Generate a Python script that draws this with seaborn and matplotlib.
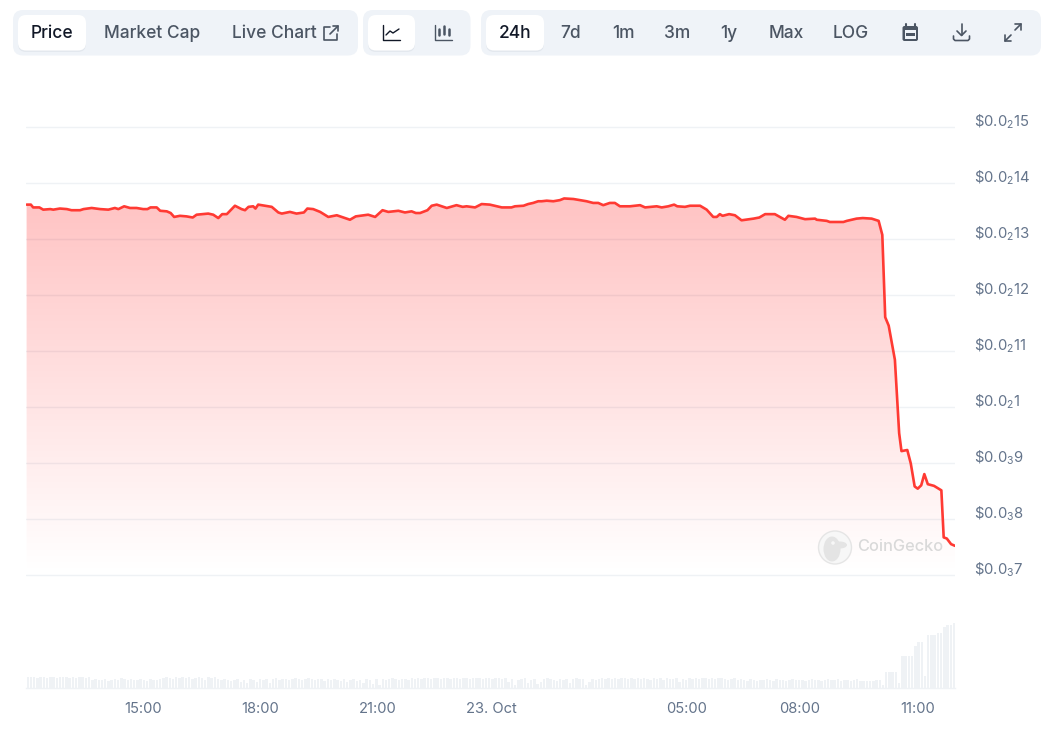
import numpy as np
import pandas as pd
import matplotlib
matplotlib.use("Agg")
import matplotlib.pyplot as plt
import seaborn as sns
from matplotlib.patches import FancyBboxPatch, Polygon, Circle, Ellipse, Rectangle
from matplotlib.transforms import ScaledTranslation

W, H = 1062, 729

# hours since 22 Oct 00:00, price in units of $0.0001
early_hours = [12.01, 12.12, 12.18, 12.34, 12.44, 12.62, 12.70, 12.87, 13.05, 13.17, 13.39, 13.48, 13.69, 13.91,
               14.12, 14.29, 14.38, 14.53, 14.68, 14.85, 15.02, 15.13, 15.21, 15.37, 15.46, 15.63, 15.73, 15.82,
               15.97, 16.14, 16.30, 16.40, 16.70, 16.83, 16.96, 17.06, 17.18, 17.39, 17.56, 17.65, 17.74, 17.86,
               17.92, 17.99, 18.17, 18.34, 18.51, 18.60, 18.81, 18.98, 19.17, 19.26, 19.41, 19.59]
early_price = [13.62, 13.62, 13.57, 13.57, 13.53, 13.54, 13.53, 13.55, 13.54, 13.52, 13.52, 13.54, 13.56, 13.54,
               13.53, 13.56, 13.54, 13.59, 13.56, 13.56, 13.54, 13.54, 13.57, 13.57, 13.51, 13.50, 13.47, 13.40,
               13.42, 13.41, 13.39, 13.44, 13.46, 13.44, 13.38, 13.45, 13.45, 13.60, 13.54, 13.52, 13.58, 13.59,
               13.55, 13.62, 13.60, 13.58, 13.48, 13.46, 13.49, 13.46, 13.48, 13.55, 13.54, 13.49]
mid_hours = [19.80, 20.02, 20.36, 20.51, 20.83, 21.01, 21.20, 21.35, 21.61, 21.78, 21.95, 22.06, 22.17, 22.36,
             22.47, 22.60, 22.86, 23.11, 23.27, 23.37, 23.59, 23.76, 23.97, 24.28, 24.53, 24.62, 24.84, 24.96,
             25.09, 25.22, 25.31, 25.44, 25.61, 25.78, 25.89, 26.13, 26.47, 26.64, 26.77, 26.90, 27.07, 27.20,
             27.33, 27.59, 27.85]
mid_price = [13.40, 13.43, 13.35, 13.41, 13.44, 13.40, 13.52, 13.49, 13.51, 13.48, 13.50, 13.47, 13.47, 13.52,
             13.60, 13.62, 13.56, 13.61, 13.58, 13.59, 13.57, 13.63, 13.62, 13.57, 13.57, 13.59, 13.60, 13.63,
             13.65, 13.68, 13.68, 13.69, 13.68, 13.70, 13.73, 13.72, 13.68, 13.65, 13.65, 13.61, 13.65, 13.65,
             13.59, 13.59, 13.61]
late_hours = [27.98, 28.28, 28.41, 28.58, 28.73, 28.81, 29.01, 29.14, 29.40, 29.57, 29.74, 29.83, 29.91, 29.98,
              30.15, 30.30, 30.47, 30.78, 30.93, 31.08, 31.33, 31.59, 31.68, 31.89, 32.11, 32.37, 32.41, 32.67,
              32.75, 33.10, 33.19, 33.44, 33.60, 33.83, 34.01]
late_price = [13.57, 13.59, 13.57, 13.59, 13.62, 13.59, 13.58, 13.60, 13.60, 13.53, 13.40, 13.40, 13.45, 13.42,
              13.45, 13.43, 13.34, 13.37, 13.39, 13.45, 13.45, 13.35, 13.42, 13.40, 13.36, 13.37, 13.35, 13.33,
              13.31, 13.31, 13.33, 13.37, 13.38, 13.37, 13.33]
drop_hours = [34.105, 34.18, 34.27, 34.43, 34.49, 34.54, 34.60, 34.75, 34.84, 34.94, 35.02, 35.11, 35.19, 35.28,
              35.44, 35.63, 35.69, 35.77, 35.88, 35.98]
drop_price = [13.08, 11.61, 11.46, 10.85, 10.13, 9.54, 9.22, 9.24, 9.00, 8.59, 8.55, 8.61, 8.81, 8.63,
              8.60, 8.52, 7.68, 7.66, 7.56, 7.53]

# 5 minute volume bars, arbitrary units
volume = [11, 11, 11, 10, 11, 11, 10, 11, 11, 10, 11, 11, 11, 10, 11, 10, 11, 11, 10, 11,
          8, 9, 8, 8, 9, 7, 8, 9, 8, 10, 9, 8, 9, 8, 8, 9, 8, 7, 9, 8,
          8, 9, 10, 11, 10, 9, 11, 10, 11, 10, 11, 9, 10, 11, 10, 8, 11, 10, 11, 9,
          8, 9, 8, 7, 8, 9, 6, 8, 5, 9, 8, 6, 9, 8, 9, 5, 9, 10, 8, 9,
          9, 8, 9, 10, 9, 8, 9, 10, 9, 8, 9, 9, 7, 9, 8, 9, 8, 7, 9, 6,
          8, 9, 7, 8, 5, 9, 8, 4, 9, 3, 9, 8, 9, 10, 9, 8, 9, 9, 8, 10,
          9, 10, 9, 10, 10, 9, 10, 10, 9, 10, 10, 9, 10, 10, 9, 10, 10, 9, 10, 10,
          10, 9, 10, 10, 9, 10, 10, 9, 10, 6, 9, 3, 8, 9, 10, 5, 8, 9, 4, 6,
          9, 10, 9, 8, 7, 9, 8, 9, 5, 9, 10, 9, 9, 3, 6, 9, 8, 9, 10, 9,
          10, 9, 10, 9, 10, 10, 9, 10, 9, 10, 9, 10, 9, 8, 10, 9, 10, 8, 10, 9,
          9, 10, 6, 9, 8, 10, 9, 10, 9, 10, 10, 9, 10, 9, 10, 10, 9, 8, 9, 10,
          8, 9, 8, 7, 9, 8, 7, 8, 8, 9, 8, 7, 9, 8, 8, 7, 8, 9, 8, 8,
          8, 7, 8, 9, 8, 8, 7, 8, 9, 8, 8, 9, 7, 8, 8, 7, 8, 9,
          7, 7, 7, 7, 7, 8, 8, 3.5, 16, 16, 16, 16, 5, 32, 32, 32, 32, 42, 46, 46, 12,
          53, 53, 53, 55, 55, 61, 63, 63, 65]

price_ticks = [7, 8, 9, 10, 11, 12, 13, 14, 15]
price_labels = [r'\$0.0$_{3}$7', r'\$0.0$_{3}$8', r'\$0.0$_{3}$9', r'\$0.0$_{2}$1', r'\$0.0$_{2}$11',
                r'\$0.0$_{2}$12', r'\$0.0$_{2}$13', r'\$0.0$_{2}$14', r'\$0.0$_{2}$15']
time_ticks = [15.02, 18.04, 21.07, 24.00, 29.04, 31.97, 35.01]
time_labels = ['15:00', '18:00', '21:00', '23. Oct', '05:00', '08:00', '11:00']

RED = '#ff3a33'
GRID = '#eff2f5'
SLATE = '#64748b'
PANEL = '#eff3f8'
DARK = '#111827'
MUTED = '#4b5563'


def px_axes(fig, left, top, right, bottom, **kw):
    return fig.add_axes([left / W, 1 - bottom / H, (right - left) / W, (bottom - top) / H], **kw)


def draw_price(ax, hours, price):
    ax.set_xlim(11.995, 35.982)
    ax.set_ylim(6.9, 15.1)
    ax.set_yticks(price_ticks, price_labels)
    ax.yaxis.tick_right()
    ax.tick_params(axis='y', length=0, pad=13.8, labelsize=10.7, labelcolor=SLATE)
    ax.set_xticks([])
    ax.grid(axis='y', color=GRID, lw=1)
    ax.set_axisbelow(True)
    sns.despine(ax=ax, left=True, bottom=True, right=True, top=True)
    ax.patch.set_alpha(0)

    alpha = np.linspace(0.24, 0, 256)[:, None]
    rgba = np.zeros((256, 1, 4))
    rgba[..., 0] = 1.0
    rgba[..., 3] = alpha
    im = ax.imshow(rgba, extent=[11.995, 35.982, 7.0, 13.75], origin='upper', aspect='auto', zorder=1.5,
                   interpolation='bilinear')
    outline = list(zip(hours, price)) + [(hours[-1], 7.0), (hours[0], 7.0)]
    im.set_clip_path(Polygon(outline, closed=True, transform=ax.transData))

    sns.lineplot(x=hours, y=price, ax=ax, color=RED, lw=1.9, estimator=None, sort=False, zorder=3)
    ax.set_xlim(11.995, 35.982)
    ax.set_ylim(6.9, 15.1)
    ax.set_xlabel('')
    ax.set_ylabel('')

    shift = ScaledTranslation(0, 7.5 / 100, ax.figure.dpi_scale_trans)
    for tick_label in ax.get_yticklabels():
        tick_label.set_transform(tick_label.get_transform() + shift)


def draw_volume(ax):
    bar_hours = [12.04 + i / 12 for i in range(len(volume))]
    df = pd.DataFrame({'hour': bar_hours, 'volume': volume})
    sns.barplot(data=df, x='hour', y='volume', ax=ax, native_scale=True, color='#eff2f5', saturation=1,
                width=0.76, linewidth=0, errorbar=None)
    ax.set_xlim(11.995, 35.982)
    ax.set_ylim(0, 68)
    ax.set_xticks(time_ticks, time_labels)
    ax.set_yticks([])
    ax.set_xlabel('')
    ax.set_ylabel('')
    ax.tick_params(axis='x', length=7.5, width=1, color=GRID, pad=2.5, labelsize=10.6, labelcolor=SLATE)
    sns.despine(ax=ax, left=True, top=True, right=True)
    ax.spines['bottom'].set_color(GRID)
    ax.spines['bottom'].set_linewidth(1)
    ax.patch.set_alpha(0)


def box(ax, x0, y0, x1, y1, color, r=8, **kw):
    ax.add_patch(FancyBboxPatch((x0 + r, y0 + r), x1 - x0 - 2 * r, y1 - y0 - 2 * r,
                                boxstyle='round,pad=%d,rounding_size=%d' % (r, r),
                                fc=color, ec='none', **kw))


def button(ax, x0, y0, x1, y1):
    box(ax, x0, y0 + 1.5, x1, y1 + 1.5, '#d5dbe3', alpha=0.45)
    box(ax, x0, y0, x1, y1, 'white')


def label(ax, x, text, color=MUTED, ha='center'):
    ax.text(x, 33.7, text, ha=ha, va='center', fontsize=12.5, color=color, fontweight='medium')


def icon(ax, xs, ys, color=MUTED, lw=1.0):
    ax.plot(xs, ys, color=color, lw=lw, solid_capstyle='round', solid_joinstyle='round')


def draw_toolbar(ax):
    box(ax, 13, 10, 358, 55.5, PANEL, r=10)
    box(ax, 363, 10, 470.5, 55.5, PANEL, r=10)
    box(ax, 481, 10, 1041, 55.5, PANEL, r=10)
    button(ax, 18, 15, 86, 50.5)
    button(ax, 368, 15, 415, 50.5)
    button(ax, 486, 15, 544, 50.5)

    label(ax, 52, 'Price', DARK)
    label(ax, 152.5, 'Market Cap')
    label(ax, 274, 'Live Chart')
    label(ax, 515, '24h', DARK)
    for x, text in [(571, '7d'), (623, '1m'), (677, '3m'), (729, '1y'), (786, 'Max'), (851, 'LOG')]:
        label(ax, x, text)

    # external link
    icon(ax, [330, 324, 324, 337, 337], [27, 27, 40, 40, 34], lw=1.2)
    icon(ax, [330, 338], [34, 26], lw=1.2)
    icon(ax, [333, 338, 338], [26, 26, 31], lw=1.2)
    # line chart
    icon(ax, [383, 383, 400], [25, 40, 40], DARK)
    icon(ax, [386, 390, 393, 399], [35, 31, 33, 29], DARK)
    # candles
    icon(ax, [434.5, 434.5, 452], [25, 40, 40])
    for x, y0, y1 in [(439, 29, 35), (444, 26, 34), (449, 29, 35)]:
        icon(ax, [x, x], [y0, y1], lw=1.8)
    # calendar
    box(ax, 902.5, 26, 918, 41, MUTED, r=2)
    ax.add_patch(Rectangle((904.5, 30), 11.5, 9, fc=PANEL, ec='none'))
    ax.add_patch(Rectangle((906, 33), 8.5, 3, fc=MUTED, ec='none'))
    icon(ax, [906, 906], [24, 27], lw=1.5)
    icon(ax, [914.5, 914.5], [24, 27], lw=1.5)
    # download
    icon(ax, [961.5, 961.5], [24, 35], lw=1.2)
    icon(ax, [957, 961.5, 966], [31, 35.5, 31], lw=1.2)
    icon(ax, [953.5, 953.5, 955, 968, 969.5, 969.5], [36, 39, 40.5, 40.5, 39, 36], lw=1.2)
    # expand
    icon(ax, [1005, 1011], [41, 35], lw=1.2)
    icon(ax, [1015, 1021], [30, 24], lw=1.2)
    icon(ax, [1005, 1005, 1011], [35, 41, 41], lw=1.2)
    icon(ax, [1015, 1021, 1021], [24, 24, 30], lw=1.2)


def draw_watermark(ax):
    ax.add_patch(Circle((835, 547.5), 16.5, fc='#f7f7f7', ec='#e3e3e3', lw=1, alpha=0.9))
    ax.add_patch(Ellipse((832, 549), 17, 25, fc='#e4e4e4', ec='none'))
    ax.add_patch(Ellipse((840, 545), 14, 7, fc='#e4e4e4', ec='none'))
    ax.add_patch(Circle((833, 543), 1.8, fc='#f7f7f7', ec='none'))
    ax.text(857.5, 546.5, 'CoinGecko', ha='left', va='center', fontsize=11.8, color='#d9d9d9',
            fontweight='medium')


if __name__ == "__main__":
    sns.set_theme(style='white')
    plt.rcParams['font.family'] = ['Inter', 'Noto Sans', 'DejaVu Sans']
    plt.rcParams['mathtext.fontset'] = 'custom'
    plt.rcParams['mathtext.rm'] = 'Inter'
    plt.rcParams['mathtext.default'] = 'regular'

    hours = early_hours + mid_hours + late_hours + drop_hours
    price = early_price + mid_price + late_price + drop_price

    fig = plt.figure(figsize=(W / 100, H / 100), dpi=100, facecolor='white')
    price_ax = px_axes(fig, 26, 121.7, 955, 581.1)
    volume_ax = px_axes(fig, 26, 620, 955, 688)
    overlay = px_axes(fig, 0, 0, W, H)
    overlay.set_xlim(0, W)
    overlay.set_ylim(H, 0)
    overlay.axis('off')
    overlay.patch.set_alpha(0)

    draw_price(price_ax, hours, price)
    draw_volume(volume_ax)
    draw_toolbar(overlay)
    draw_watermark(overlay)
    overlay.set_xlim(0, W)
    overlay.set_ylim(H, 0)

    fig.savefig('out.png', dpi=100)
